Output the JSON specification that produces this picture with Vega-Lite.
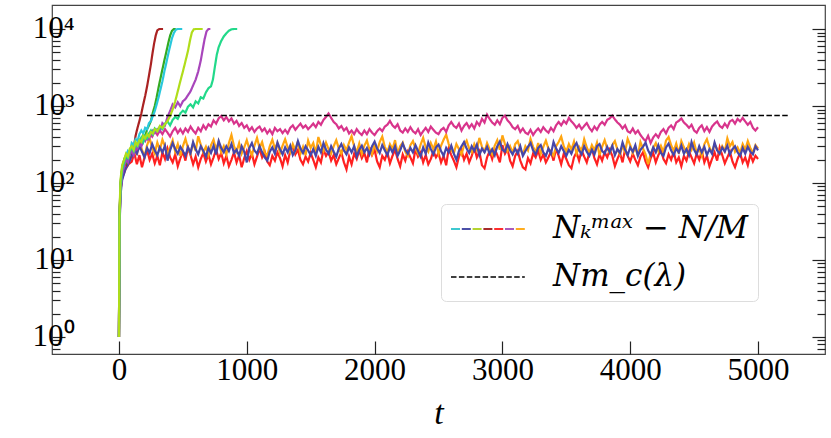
{
  "$schema": "https://vega.github.io/schema/vega-lite/v6.json",
  "width": 773,
  "height": 349,
  "autosize": {"type": "none"},
  "padding": {"left": 52, "top": 5, "right": 6, "bottom": 84},
  "config": {"view": {"stroke": "#444", "strokeWidth": 1.2}, "font": "Liberation Serif"},
  "datasets": {
    "mc": [{"t0": -250, "t1": 5243, "v": 750}],
    "runs": [
      {"s":"a","t":0,"v":1},{"s":"a","t":4,"v":30},{"s":"a","t":12,"v":80},{"s":"a","t":25,"v":115},{"s":"a","t":50,"v":150},{"s":"a","t":75,"v":175},
      {"s":"a","t":100,"v":190},{"s":"a","t":120,"v":245},{"s":"a","t":140,"v":175},{"s":"a","t":160,"v":230},{"s":"a","t":180,"v":160},{"s":"a","t":200,"v":215},{"s":"a","t":220,"v":265},{"s":"a","t":240,"v":200},{"s":"a","t":260,"v":240},{"s":"a","t":280,"v":180},
      {"s":"a","t":300,"v":225},{"s":"a","t":320,"v":170},{"s":"a","t":340,"v":250},{"s":"a","t":360,"v":205},{"s":"a","t":380,"v":280},{"s":"a","t":400,"v":215},{"s":"a","t":420,"v":185},{"s":"a","t":440,"v":235},{"s":"a","t":460,"v":165},{"s":"a","t":480,"v":210},
      {"s":"a","t":500,"v":255},{"s":"a","t":520,"v":195},{"s":"a","t":540,"v":290},{"s":"a","t":560,"v":230},{"s":"a","t":580,"v":175},{"s":"a","t":600,"v":220},{"s":"a","t":620,"v":160},{"s":"a","t":640,"v":205},{"s":"a","t":660,"v":245},{"s":"a","t":680,"v":190},
      {"s":"a","t":700,"v":235},{"s":"a","t":720,"v":175},{"s":"a","t":740,"v":215},{"s":"a","t":760,"v":270},{"s":"a","t":780,"v":205},{"s":"a","t":800,"v":245},{"s":"a","t":820,"v":180},{"s":"a","t":840,"v":225},{"s":"a","t":860,"v":165},{"s":"a","t":880,"v":200},
      {"s":"a","t":900,"v":250},{"s":"a","t":920,"v":185},{"s":"a","t":940,"v":230},{"s":"a","t":960,"v":160},{"s":"a","t":980,"v":210},{"s":"a","t":1000,"v":260},{"s":"a","t":1020,"v":200},{"s":"a","t":1040,"v":240},{"s":"a","t":1060,"v":175},{"s":"a","t":1080,"v":220},
      {"s":"a","t":1100,"v":280},{"s":"a","t":1120,"v":215},{"s":"a","t":1140,"v":255},{"s":"a","t":1160,"v":190},{"s":"a","t":1180,"v":170},{"s":"a","t":1200,"v":225},{"s":"a","t":1220,"v":195},{"s":"a","t":1240,"v":250},{"s":"a","t":1260,"v":210},{"s":"a","t":1280,"v":165},
      {"s":"a","t":1300,"v":230},{"s":"a","t":1320,"v":185},{"s":"a","t":1340,"v":260},{"s":"a","t":1360,"v":300},{"s":"a","t":1380,"v":235},{"s":"a","t":1400,"v":270},{"s":"a","t":1420,"v":200},{"s":"a","t":1440,"v":175},{"s":"a","t":1460,"v":220},{"s":"a","t":1480,"v":190},
      {"s":"a","t":1500,"v":245},{"s":"a","t":1520,"v":200},{"s":"a","t":1540,"v":160},{"s":"a","t":1560,"v":215},{"s":"a","t":1580,"v":185},{"s":"a","t":1600,"v":270},{"s":"a","t":1620,"v":225},{"s":"a","t":1640,"v":255},{"s":"a","t":1660,"v":195},{"s":"a","t":1680,"v":230},
      {"s":"a","t":1700,"v":175},{"s":"a","t":1720,"v":210},{"s":"a","t":1740,"v":250},{"s":"a","t":1760,"v":185},{"s":"a","t":1780,"v":150},{"s":"a","t":1800,"v":220},{"s":"a","t":1820,"v":175},{"s":"a","t":1840,"v":240},{"s":"a","t":1860,"v":205},{"s":"a","t":1880,"v":265},
      {"s":"a","t":1900,"v":210},{"s":"a","t":1920,"v":245},{"s":"a","t":1940,"v":185},{"s":"a","t":1960,"v":290},{"s":"a","t":1980,"v":230},{"s":"a","t":2000,"v":270},{"s":"a","t":2020,"v":190},{"s":"a","t":2040,"v":160},{"s":"a","t":2060,"v":225},{"s":"a","t":2080,"v":200},
      {"s":"a","t":2100,"v":250},{"s":"a","t":2120,"v":180},{"s":"a","t":2140,"v":225},{"s":"a","t":2160,"v":270},{"s":"a","t":2180,"v":205},{"s":"a","t":2200,"v":165},{"s":"a","t":2220,"v":235},{"s":"a","t":2240,"v":195},{"s":"a","t":2260,"v":255},{"s":"a","t":2280,"v":215},
      {"s":"a","t":2300,"v":180},{"s":"a","t":2320,"v":275},{"s":"a","t":2340,"v":220},{"s":"a","t":2360,"v":250},{"s":"a","t":2380,"v":185},{"s":"a","t":2400,"v":230},{"s":"a","t":2420,"v":175},{"s":"a","t":2440,"v":205},{"s":"a","t":2460,"v":260},{"s":"a","t":2480,"v":215},
      {"s":"a","t":2500,"v":245},{"s":"a","t":2520,"v":185},{"s":"a","t":2540,"v":225},{"s":"a","t":2560,"v":170},{"s":"a","t":2580,"v":280},{"s":"a","t":2600,"v":230},{"s":"a","t":2620,"v":195},{"s":"a","t":2640,"v":160},{"s":"a","t":2660,"v":220},{"s":"a","t":2680,"v":265},
      {"s":"a","t":2700,"v":200},{"s":"a","t":2720,"v":240},{"s":"a","t":2740,"v":185},{"s":"a","t":2760,"v":225},{"s":"a","t":2780,"v":290},{"s":"a","t":2800,"v":215},{"s":"a","t":2820,"v":255},{"s":"a","t":2840,"v":170},{"s":"a","t":2860,"v":155},{"s":"a","t":2880,"v":215},
      {"s":"a","t":2900,"v":260},{"s":"a","t":2920,"v":205},{"s":"a","t":2940,"v":275},{"s":"a","t":2960,"v":230},{"s":"a","t":2980,"v":185},{"s":"a","t":3000,"v":310},{"s":"a","t":3020,"v":240},{"s":"a","t":3040,"v":275},{"s":"a","t":3060,"v":195},{"s":"a","t":3080,"v":165},
      {"s":"a","t":3100,"v":225},{"s":"a","t":3120,"v":260},{"s":"a","t":3140,"v":195},{"s":"a","t":3160,"v":160},{"s":"a","t":3180,"v":150},{"s":"a","t":3200,"v":210},{"s":"a","t":3220,"v":180},{"s":"a","t":3240,"v":240},{"s":"a","t":3260,"v":215},{"s":"a","t":3280,"v":265},
      {"s":"a","t":3300,"v":200},{"s":"a","t":3320,"v":235},{"s":"a","t":3340,"v":185},{"s":"a","t":3360,"v":215},{"s":"a","t":3380,"v":255},{"s":"a","t":3400,"v":195},{"s":"a","t":3420,"v":280},{"s":"a","t":3440,"v":225},{"s":"a","t":3460,"v":175},{"s":"a","t":3480,"v":240},
      {"s":"a","t":3500,"v":205},{"s":"a","t":3520,"v":170},{"s":"a","t":3540,"v":155},{"s":"a","t":3560,"v":215},{"s":"a","t":3580,"v":250},{"s":"a","t":3600,"v":195},{"s":"a","t":3620,"v":265},{"s":"a","t":3640,"v":220},{"s":"a","t":3660,"v":185},{"s":"a","t":3680,"v":245},
      {"s":"a","t":3700,"v":280},{"s":"a","t":3720,"v":210},{"s":"a","t":3740,"v":175},{"s":"a","t":3760,"v":235},{"s":"a","t":3780,"v":195},{"s":"a","t":3800,"v":250},{"s":"a","t":3820,"v":215},{"s":"a","t":3840,"v":270},{"s":"a","t":3860,"v":225},{"s":"a","t":3880,"v":165},
      {"s":"a","t":3900,"v":205},{"s":"a","t":3920,"v":245},{"s":"a","t":3940,"v":185},{"s":"a","t":3960,"v":275},{"s":"a","t":3980,"v":225},{"s":"a","t":4000,"v":190},{"s":"a","t":4020,"v":240},{"s":"a","t":4040,"v":200},{"s":"a","t":4060,"v":170},{"s":"a","t":4080,"v":220},
      {"s":"a","t":4100,"v":250},{"s":"a","t":4120,"v":190},{"s":"a","t":4140,"v":160},{"s":"a","t":4160,"v":210},{"s":"a","t":4180,"v":245},{"s":"a","t":4200,"v":185},{"s":"a","t":4220,"v":230},{"s":"a","t":4240,"v":270},{"s":"a","t":4260,"v":205},{"s":"a","t":4280,"v":180},
      {"s":"a","t":4300,"v":235},{"s":"a","t":4320,"v":200},{"s":"a","t":4340,"v":255},{"s":"a","t":4360,"v":185},{"s":"a","t":4380,"v":215},{"s":"a","t":4400,"v":165},{"s":"a","t":4420,"v":225},{"s":"a","t":4440,"v":195},{"s":"a","t":4460,"v":255},{"s":"a","t":4480,"v":215},
      {"s":"a","t":4500,"v":180},{"s":"a","t":4520,"v":240},{"s":"a","t":4540,"v":200},{"s":"a","t":4560,"v":260},{"s":"a","t":4580,"v":185},{"s":"a","t":4600,"v":225},{"s":"a","t":4620,"v":165},{"s":"a","t":4640,"v":205},{"s":"a","t":4660,"v":250},{"s":"a","t":4680,"v":195},
      {"s":"a","t":4700,"v":290},{"s":"a","t":4720,"v":230},{"s":"a","t":4740,"v":180},{"s":"a","t":4760,"v":215},{"s":"a","t":4780,"v":255},{"s":"a","t":4800,"v":190},{"s":"a","t":4820,"v":160},{"s":"a","t":4840,"v":205},{"s":"a","t":4860,"v":245},{"s":"a","t":4880,"v":185},
      {"s":"a","t":4900,"v":215},{"s":"a","t":4920,"v":170},{"s":"a","t":4940,"v":235},{"s":"a","t":4960,"v":190},{"s":"a","t":4980,"v":225},{"s":"a","t":5000,"v":205},

      {"s":"b","t":0,"v":1},{"s":"b","t":4,"v":35},{"s":"b","t":12,"v":85},{"s":"b","t":25,"v":125},{"s":"b","t":50,"v":165},{"s":"b","t":75,"v":190},
      {"s":"b","t":100,"v":250},{"s":"b","t":120,"v":320},{"s":"b","t":140,"v":230},{"s":"b","t":160,"v":345},{"s":"b","t":180,"v":270},{"s":"b","t":200,"v":220},{"s":"b","t":220,"v":310},{"s":"b","t":240,"v":380},{"s":"b","t":260,"v":285},{"s":"b","t":280,"v":240},
      {"s":"b","t":300,"v":335},{"s":"b","t":320,"v":270},{"s":"b","t":340,"v":365},{"s":"b","t":360,"v":300},{"s":"b","t":380,"v":235},{"s":"b","t":400,"v":290},{"s":"b","t":420,"v":360},{"s":"b","t":440,"v":255},{"s":"b","t":460,"v":320},{"s":"b","t":480,"v":225},
      {"s":"b","t":500,"v":300},{"s":"b","t":520,"v":375},{"s":"b","t":540,"v":280},{"s":"b","t":560,"v":240},{"s":"b","t":580,"v":330},{"s":"b","t":600,"v":260},{"s":"b","t":620,"v":405},{"s":"b","t":640,"v":315},{"s":"b","t":660,"v":250},{"s":"b","t":680,"v":295},
      {"s":"b","t":700,"v":230},{"s":"b","t":720,"v":310},{"s":"b","t":740,"v":365},{"s":"b","t":760,"v":270},{"s":"b","t":780,"v":345},{"s":"b","t":800,"v":250},{"s":"b","t":820,"v":300},{"s":"b","t":840,"v":235},{"s":"b","t":860,"v":330},{"s":"b","t":880,"v":420},
      {"s":"b","t":900,"v":300},{"s":"b","t":920,"v":255},{"s":"b","t":940,"v":330},{"s":"b","t":960,"v":240},{"s":"b","t":980,"v":290},{"s":"b","t":1000,"v":360},{"s":"b","t":1020,"v":275},{"s":"b","t":1040,"v":230},{"s":"b","t":1060,"v":305},{"s":"b","t":1080,"v":385},
      {"s":"b","t":1100,"v":285},{"s":"b","t":1120,"v":340},{"s":"b","t":1140,"v":250},{"s":"b","t":1160,"v":225},{"s":"b","t":1180,"v":300},{"s":"b","t":1200,"v":365},{"s":"b","t":1220,"v":280},{"s":"b","t":1240,"v":330},{"s":"b","t":1260,"v":245},{"s":"b","t":1280,"v":305},
      {"s":"b","t":1300,"v":370},{"s":"b","t":1320,"v":290},{"s":"b","t":1340,"v":250},{"s":"b","t":1360,"v":320},{"s":"b","t":1380,"v":265},{"s":"b","t":1400,"v":345},{"s":"b","t":1420,"v":240},{"s":"b","t":1440,"v":295},{"s":"b","t":1460,"v":230},{"s":"b","t":1480,"v":355},
      {"s":"b","t":1500,"v":285},{"s":"b","t":1520,"v":330},{"s":"b","t":1540,"v":245},{"s":"b","t":1560,"v":395},{"s":"b","t":1580,"v":310},{"s":"b","t":1600,"v":260},{"s":"b","t":1620,"v":335},{"s":"b","t":1640,"v":275},{"s":"b","t":1660,"v":240},{"s":"b","t":1680,"v":300},
      {"s":"b","t":1700,"v":360},{"s":"b","t":1720,"v":280},{"s":"b","t":1740,"v":240},{"s":"b","t":1760,"v":310},{"s":"b","t":1780,"v":265},{"s":"b","t":1800,"v":335},{"s":"b","t":1820,"v":405},{"s":"b","t":1840,"v":300},{"s":"b","t":1860,"v":250},{"s":"b","t":1880,"v":325},
      {"s":"b","t":1900,"v":240},{"s":"b","t":1920,"v":305},{"s":"b","t":1940,"v":355},{"s":"b","t":1960,"v":270},{"s":"b","t":1980,"v":235},{"s":"b","t":2000,"v":315},{"s":"b","t":2020,"v":260},{"s":"b","t":2040,"v":340},{"s":"b","t":2060,"v":400},{"s":"b","t":2080,"v":295},
      {"s":"b","t":2100,"v":250},{"s":"b","t":2120,"v":320},{"s":"b","t":2140,"v":275},{"s":"b","t":2160,"v":360},{"s":"b","t":2180,"v":240},{"s":"b","t":2200,"v":300},{"s":"b","t":2220,"v":335},{"s":"b","t":2240,"v":255},{"s":"b","t":2260,"v":225},{"s":"b","t":2280,"v":310},
      {"s":"b","t":2300,"v":350},{"s":"b","t":2320,"v":280},{"s":"b","t":2340,"v":240},{"s":"b","t":2360,"v":315},{"s":"b","t":2380,"v":385},{"s":"b","t":2400,"v":290},{"s":"b","t":2420,"v":255},{"s":"b","t":2440,"v":330},{"s":"b","t":2460,"v":275},{"s":"b","t":2480,"v":345},
      {"s":"b","t":2500,"v":240},{"s":"b","t":2520,"v":305},{"s":"b","t":2540,"v":365},{"s":"b","t":2560,"v":425},{"s":"b","t":2580,"v":320},{"s":"b","t":2600,"v":265},{"s":"b","t":2620,"v":245},{"s":"b","t":2640,"v":320},{"s":"b","t":2660,"v":275},{"s":"b","t":2680,"v":235},
      {"s":"b","t":2700,"v":310},{"s":"b","t":2720,"v":355},{"s":"b","t":2740,"v":280},{"s":"b","t":2760,"v":250},{"s":"b","t":2780,"v":320},{"s":"b","t":2800,"v":270},{"s":"b","t":2820,"v":385},{"s":"b","t":2840,"v":295},{"s":"b","t":2860,"v":255},{"s":"b","t":2880,"v":330},
      {"s":"b","t":2900,"v":275},{"s":"b","t":2920,"v":235},{"s":"b","t":2940,"v":305},{"s":"b","t":2960,"v":360},{"s":"b","t":2980,"v":270},{"s":"b","t":3000,"v":415},{"s":"b","t":3020,"v":320},{"s":"b","t":3040,"v":260},{"s":"b","t":3060,"v":300},{"s":"b","t":3080,"v":245},
      {"s":"b","t":3100,"v":320},{"s":"b","t":3120,"v":350},{"s":"b","t":3140,"v":275},{"s":"b","t":3160,"v":235},{"s":"b","t":3180,"v":300},{"s":"b","t":3200,"v":265},{"s":"b","t":3220,"v":375},{"s":"b","t":3240,"v":295},{"s":"b","t":3260,"v":250},{"s":"b","t":3280,"v":330},
      {"s":"b","t":3300,"v":240},{"s":"b","t":3320,"v":295},{"s":"b","t":3340,"v":355},{"s":"b","t":3360,"v":280},{"s":"b","t":3380,"v":250},{"s":"b","t":3400,"v":225},{"s":"b","t":3420,"v":300},{"s":"b","t":3440,"v":340},{"s":"b","t":3460,"v":400},{"s":"b","t":3480,"v":300},
      {"s":"b","t":3500,"v":255},{"s":"b","t":3520,"v":320},{"s":"b","t":3540,"v":270},{"s":"b","t":3560,"v":345},{"s":"b","t":3580,"v":240},{"s":"b","t":3600,"v":295},{"s":"b","t":3620,"v":260},{"s":"b","t":3640,"v":370},{"s":"b","t":3660,"v":290},{"s":"b","t":3680,"v":245},
      {"s":"b","t":3700,"v":310},{"s":"b","t":3720,"v":265},{"s":"b","t":3740,"v":335},{"s":"b","t":3760,"v":230},{"s":"b","t":3780,"v":295},{"s":"b","t":3800,"v":360},{"s":"b","t":3820,"v":280},{"s":"b","t":3840,"v":245},{"s":"b","t":3860,"v":310},{"s":"b","t":3880,"v":350},
      {"s":"b","t":3900,"v":270},{"s":"b","t":3920,"v":235},{"s":"b","t":3940,"v":300},{"s":"b","t":3960,"v":255},{"s":"b","t":3980,"v":375},{"s":"b","t":4000,"v":310},{"s":"b","t":4020,"v":245},{"s":"b","t":4040,"v":290},{"s":"b","t":4060,"v":225},{"s":"b","t":4080,"v":340},
      {"s":"b","t":4100,"v":280},{"s":"b","t":4120,"v":235},{"s":"b","t":4140,"v":175},{"s":"b","t":4160,"v":240},{"s":"b","t":4180,"v":285},{"s":"b","t":4200,"v":330},{"s":"b","t":4220,"v":260},{"s":"b","t":4240,"v":305},{"s":"b","t":4260,"v":250},{"s":"b","t":4280,"v":355},
      {"s":"b","t":4300,"v":395},{"s":"b","t":4320,"v":310},{"s":"b","t":4340,"v":260},{"s":"b","t":4360,"v":325},{"s":"b","t":4380,"v":240},{"s":"b","t":4400,"v":350},{"s":"b","t":4420,"v":290},{"s":"b","t":4440,"v":255},{"s":"b","t":4460,"v":320},{"s":"b","t":4480,"v":270},
      {"s":"b","t":4500,"v":335},{"s":"b","t":4520,"v":245},{"s":"b","t":4540,"v":280},{"s":"b","t":4560,"v":225},{"s":"b","t":4580,"v":320},{"s":"b","t":4600,"v":370},{"s":"b","t":4620,"v":290},{"s":"b","t":4640,"v":250},{"s":"b","t":4660,"v":320},{"s":"b","t":4680,"v":275},
      {"s":"b","t":4700,"v":240},{"s":"b","t":4720,"v":300},{"s":"b","t":4740,"v":260},{"s":"b","t":4760,"v":380},{"s":"b","t":4780,"v":300},{"s":"b","t":4800,"v":340},{"s":"b","t":4820,"v":255},{"s":"b","t":4840,"v":290},{"s":"b","t":4860,"v":245},{"s":"b","t":4880,"v":320},
      {"s":"b","t":4900,"v":270},{"s":"b","t":4920,"v":350},{"s":"b","t":4940,"v":285},{"s":"b","t":4960,"v":245},{"s":"b","t":4980,"v":310},{"s":"b","t":5000,"v":280},

      {"s":"c","t":0,"v":1},{"s":"c","t":4,"v":30},{"s":"c","t":12,"v":90},{"s":"c","t":25,"v":130},{"s":"c","t":50,"v":175},{"s":"c","t":75,"v":210},
      {"s":"c","t":100,"v":245},{"s":"c","t":120,"v":300},{"s":"c","t":140,"v":270},{"s":"c","t":160,"v":350},{"s":"c","t":180,"v":320},{"s":"c","t":200,"v":400},{"s":"c","t":220,"v":370},{"s":"c","t":240,"v":440},{"s":"c","t":260,"v":400},{"s":"c","t":280,"v":470},
      {"s":"c","t":300,"v":420},{"s":"c","t":320,"v":480},{"s":"c","t":340,"v":430},{"s":"c","t":360,"v":500},{"s":"c","t":380,"v":450},{"s":"c","t":400,"v":400},{"s":"c","t":420,"v":470},{"s":"c","t":440,"v":520},{"s":"c","t":460,"v":445},{"s":"c","t":480,"v":500},
      {"s":"c","t":500,"v":440},{"s":"c","t":520,"v":510},{"s":"c","t":540,"v":460},{"s":"c","t":560,"v":540},{"s":"c","t":580,"v":480},{"s":"c","t":600,"v":440},{"s":"c","t":620,"v":520},{"s":"c","t":640,"v":470},{"s":"c","t":660,"v":560},{"s":"c","t":680,"v":500},
      {"s":"c","t":700,"v":580},{"s":"c","t":720,"v":540},{"s":"c","t":740,"v":650},{"s":"c","t":760,"v":590},{"s":"c","t":780,"v":690},{"s":"c","t":800,"v":740},{"s":"c","t":820,"v":650},{"s":"c","t":840,"v":720},{"s":"c","t":860,"v":630},{"s":"c","t":880,"v":690},
      {"s":"c","t":900,"v":590},{"s":"c","t":920,"v":640},{"s":"c","t":940,"v":550},{"s":"c","t":960,"v":600},{"s":"c","t":980,"v":520},{"s":"c","t":1000,"v":560},{"s":"c","t":1020,"v":480},{"s":"c","t":1040,"v":530},{"s":"c","t":1060,"v":460},{"s":"c","t":1080,"v":510},
      {"s":"c","t":1100,"v":540},{"s":"c","t":1120,"v":470},{"s":"c","t":1140,"v":510},{"s":"c","t":1160,"v":440},{"s":"c","t":1180,"v":490},{"s":"c","t":1200,"v":430},{"s":"c","t":1220,"v":520},{"s":"c","t":1240,"v":470},{"s":"c","t":1260,"v":500},{"s":"c","t":1280,"v":445},
      {"s":"c","t":1300,"v":490},{"s":"c","t":1320,"v":440},{"s":"c","t":1340,"v":520},{"s":"c","t":1360,"v":560},{"s":"c","t":1380,"v":490},{"s":"c","t":1400,"v":540},{"s":"c","t":1420,"v":590},{"s":"c","t":1440,"v":520},{"s":"c","t":1460,"v":560},{"s":"c","t":1480,"v":500},
      {"s":"c","t":1500,"v":540},{"s":"c","t":1520,"v":590},{"s":"c","t":1540,"v":530},{"s":"c","t":1560,"v":620},{"s":"c","t":1580,"v":570},{"s":"c","t":1600,"v":660},{"s":"c","t":1620,"v":720},{"s":"c","t":1640,"v":800},{"s":"c","t":1660,"v":700},{"s":"c","t":1680,"v":620},
      {"s":"c","t":1700,"v":580},{"s":"c","t":1720,"v":510},{"s":"c","t":1740,"v":550},{"s":"c","t":1760,"v":480},{"s":"c","t":1780,"v":520},{"s":"c","t":1800,"v":440},{"s":"c","t":1820,"v":480},{"s":"c","t":1840,"v":430},{"s":"c","t":1860,"v":500},{"s":"c","t":1880,"v":450},
      {"s":"c","t":1900,"v":420},{"s":"c","t":1920,"v":480},{"s":"c","t":1940,"v":430},{"s":"c","t":1960,"v":500},{"s":"c","t":1980,"v":450},{"s":"c","t":2000,"v":420},{"s":"c","t":2020,"v":470},{"s":"c","t":2040,"v":510},{"s":"c","t":2060,"v":470},{"s":"c","t":2080,"v":540},
      {"s":"c","t":2100,"v":570},{"s":"c","t":2120,"v":640},{"s":"c","t":2140,"v":560},{"s":"c","t":2160,"v":520},{"s":"c","t":2180,"v":580},{"s":"c","t":2200,"v":480},{"s":"c","t":2220,"v":450},{"s":"c","t":2240,"v":510},{"s":"c","t":2260,"v":460},{"s":"c","t":2280,"v":530},
      {"s":"c","t":2300,"v":470},{"s":"c","t":2320,"v":440},{"s":"c","t":2340,"v":500},{"s":"c","t":2360,"v":420},{"s":"c","t":2380,"v":470},{"s":"c","t":2400,"v":520},{"s":"c","t":2420,"v":460},{"s":"c","t":2440,"v":540},{"s":"c","t":2460,"v":490},{"s":"c","t":2480,"v":450},
      {"s":"c","t":2500,"v":430},{"s":"c","t":2520,"v":490},{"s":"c","t":2540,"v":520},{"s":"c","t":2560,"v":460},{"s":"c","t":2580,"v":560},{"s":"c","t":2600,"v":620},{"s":"c","t":2620,"v":550},{"s":"c","t":2640,"v":520},{"s":"c","t":2660,"v":590},{"s":"c","t":2680,"v":480},
      {"s":"c","t":2700,"v":550},{"s":"c","t":2720,"v":600},{"s":"c","t":2740,"v":520},{"s":"c","t":2760,"v":580},{"s":"c","t":2780,"v":510},{"s":"c","t":2800,"v":620},{"s":"c","t":2820,"v":560},{"s":"c","t":2840,"v":680},{"s":"c","t":2860,"v":610},{"s":"c","t":2880,"v":770},
      {"s":"c","t":2900,"v":680},{"s":"c","t":2920,"v":610},{"s":"c","t":2940,"v":570},{"s":"c","t":2960,"v":650},{"s":"c","t":2980,"v":580},{"s":"c","t":3000,"v":700},{"s":"c","t":3020,"v":750},{"s":"c","t":3040,"v":650},{"s":"c","t":3060,"v":600},{"s":"c","t":3080,"v":530},
      {"s":"c","t":3100,"v":500},{"s":"c","t":3120,"v":550},{"s":"c","t":3140,"v":460},{"s":"c","t":3160,"v":510},{"s":"c","t":3180,"v":450},{"s":"c","t":3200,"v":430},{"s":"c","t":3220,"v":490},{"s":"c","t":3240,"v":420},{"s":"c","t":3260,"v":470},{"s":"c","t":3280,"v":510},
      {"s":"c","t":3300,"v":460},{"s":"c","t":3320,"v":530},{"s":"c","t":3340,"v":480},{"s":"c","t":3360,"v":450},{"s":"c","t":3380,"v":520},{"s":"c","t":3400,"v":470},{"s":"c","t":3420,"v":560},{"s":"c","t":3440,"v":620},{"s":"c","t":3460,"v":560},{"s":"c","t":3480,"v":640},
      {"s":"c","t":3500,"v":590},{"s":"c","t":3520,"v":700},{"s":"c","t":3540,"v":630},{"s":"c","t":3560,"v":580},{"s":"c","t":3580,"v":520},{"s":"c","t":3600,"v":570},{"s":"c","t":3620,"v":500},{"s":"c","t":3640,"v":550},{"s":"c","t":3660,"v":600},{"s":"c","t":3680,"v":520},
      {"s":"c","t":3700,"v":470},{"s":"c","t":3720,"v":540},{"s":"c","t":3740,"v":490},{"s":"c","t":3760,"v":570},{"s":"c","t":3780,"v":620},{"s":"c","t":3800,"v":570},{"s":"c","t":3820,"v":660},{"s":"c","t":3840,"v":690},{"s":"c","t":3860,"v":750},{"s":"c","t":3880,"v":670},
      {"s":"c","t":3900,"v":610},{"s":"c","t":3920,"v":570},{"s":"c","t":3940,"v":510},{"s":"c","t":3960,"v":560},{"s":"c","t":3980,"v":470},{"s":"c","t":4000,"v":450},{"s":"c","t":4020,"v":510},{"s":"c","t":4040,"v":440},{"s":"c","t":4060,"v":480},{"s":"c","t":4080,"v":420},
      {"s":"c","t":4100,"v":380},{"s":"c","t":4120,"v":350},{"s":"c","t":4140,"v":410},{"s":"c","t":4160,"v":330},{"s":"c","t":4180,"v":390},{"s":"c","t":4200,"v":430},{"s":"c","t":4220,"v":390},{"s":"c","t":4240,"v":460},{"s":"c","t":4260,"v":500},{"s":"c","t":4280,"v":440},
      {"s":"c","t":4300,"v":520},{"s":"c","t":4320,"v":560},{"s":"c","t":4340,"v":500},{"s":"c","t":4360,"v":610},{"s":"c","t":4380,"v":640},{"s":"c","t":4400,"v":690},{"s":"c","t":4420,"v":610},{"s":"c","t":4440,"v":570},{"s":"c","t":4460,"v":520},{"s":"c","t":4480,"v":570},
      {"s":"c","t":4500,"v":480},{"s":"c","t":4520,"v":450},{"s":"c","t":4540,"v":520},{"s":"c","t":4560,"v":560},{"s":"c","t":4580,"v":470},{"s":"c","t":4600,"v":530},{"s":"c","t":4620,"v":460},{"s":"c","t":4640,"v":540},{"s":"c","t":4660,"v":590},{"s":"c","t":4680,"v":630},
      {"s":"c","t":4700,"v":550},{"s":"c","t":4720,"v":520},{"s":"c","t":4740,"v":590},{"s":"c","t":4760,"v":530},{"s":"c","t":4780,"v":630},{"s":"c","t":4800,"v":660},{"s":"c","t":4820,"v":590},{"s":"c","t":4840,"v":680},{"s":"c","t":4860,"v":630},{"s":"c","t":4880,"v":700},
      {"s":"c","t":4900,"v":630},{"s":"c","t":4920,"v":570},{"s":"c","t":4940,"v":620},{"s":"c","t":4960,"v":520},{"s":"c","t":4980,"v":480},{"s":"c","t":5000,"v":530},

      {"s":"d","t":0,"v":1},{"s":"d","t":4,"v":25},{"s":"d","t":12,"v":70},{"s":"d","t":25,"v":110},{"s":"d","t":50,"v":150},{"s":"d","t":75,"v":180},
      {"s":"d","t":100,"v":225},{"s":"d","t":120,"v":270},{"s":"d","t":140,"v":240},{"s":"d","t":160,"v":300},{"s":"d","t":180,"v":255},{"s":"d","t":200,"v":215},{"s":"d","t":220,"v":285},{"s":"d","t":240,"v":245},{"s":"d","t":260,"v":320},{"s":"d","t":280,"v":265},
      {"s":"d","t":300,"v":230},{"s":"d","t":320,"v":290},{"s":"d","t":340,"v":250},{"s":"d","t":360,"v":305},{"s":"d","t":380,"v":195},{"s":"d","t":400,"v":265},{"s":"d","t":420,"v":330},{"s":"d","t":440,"v":275},{"s":"d","t":460,"v":240},{"s":"d","t":480,"v":295},
      {"s":"d","t":500,"v":260},{"s":"d","t":520,"v":225},{"s":"d","t":540,"v":290},{"s":"d","t":560,"v":245},{"s":"d","t":580,"v":340},{"s":"d","t":600,"v":275},{"s":"d","t":620,"v":235},{"s":"d","t":640,"v":300},{"s":"d","t":660,"v":260},{"s":"d","t":680,"v":220},
      {"s":"d","t":700,"v":285},{"s":"d","t":720,"v":245},{"s":"d","t":740,"v":305},{"s":"d","t":760,"v":235},{"s":"d","t":780,"v":350},{"s":"d","t":800,"v":285},{"s":"d","t":820,"v":250},{"s":"d","t":840,"v":300},{"s":"d","t":860,"v":260},{"s":"d","t":880,"v":320},
      {"s":"d","t":900,"v":245},{"s":"d","t":920,"v":270},{"s":"d","t":940,"v":225},{"s":"d","t":960,"v":300},{"s":"d","t":980,"v":255},{"s":"d","t":1000,"v":185},{"s":"d","t":1020,"v":285},{"s":"d","t":1040,"v":330},{"s":"d","t":1060,"v":265},{"s":"d","t":1080,"v":240},
      {"s":"d","t":1100,"v":300},{"s":"d","t":1120,"v":250},{"s":"d","t":1140,"v":215},{"s":"d","t":1160,"v":195},{"s":"d","t":1180,"v":255},{"s":"d","t":1200,"v":290},{"s":"d","t":1220,"v":240},{"s":"d","t":1240,"v":335},{"s":"d","t":1260,"v":275},{"s":"d","t":1280,"v":235},
      {"s":"d","t":1300,"v":290},{"s":"d","t":1320,"v":250},{"s":"d","t":1340,"v":305},{"s":"d","t":1360,"v":230},{"s":"d","t":1380,"v":265},{"s":"d","t":1400,"v":350},{"s":"d","t":1420,"v":280},{"s":"d","t":1440,"v":245},{"s":"d","t":1460,"v":300},{"s":"d","t":1480,"v":265},
      {"s":"d","t":1500,"v":230},{"s":"d","t":1520,"v":275},{"s":"d","t":1540,"v":225},{"s":"d","t":1560,"v":295},{"s":"d","t":1580,"v":250},{"s":"d","t":1600,"v":330},{"s":"d","t":1620,"v":270},{"s":"d","t":1640,"v":240},{"s":"d","t":1660,"v":300},{"s":"d","t":1680,"v":255},
      {"s":"d","t":1700,"v":220},{"s":"d","t":1720,"v":280},{"s":"d","t":1740,"v":320},{"s":"d","t":1760,"v":265},{"s":"d","t":1780,"v":235},{"s":"d","t":1800,"v":290},{"s":"d","t":1820,"v":250},{"s":"d","t":1840,"v":300},{"s":"d","t":1860,"v":220},{"s":"d","t":1880,"v":270},
      {"s":"d","t":1900,"v":305},{"s":"d","t":1920,"v":250},{"s":"d","t":1940,"v":285},{"s":"d","t":1960,"v":235},{"s":"d","t":1980,"v":300},{"s":"d","t":2000,"v":345},{"s":"d","t":2020,"v":280},{"s":"d","t":2040,"v":245},{"s":"d","t":2060,"v":310},{"s":"d","t":2080,"v":265},
      {"s":"d","t":2100,"v":230},{"s":"d","t":2120,"v":290},{"s":"d","t":2140,"v":250},{"s":"d","t":2160,"v":300},{"s":"d","t":2180,"v":225},{"s":"d","t":2200,"v":265},{"s":"d","t":2220,"v":325},{"s":"d","t":2240,"v":270},{"s":"d","t":2260,"v":240},{"s":"d","t":2280,"v":285},
      {"s":"d","t":2300,"v":250},{"s":"d","t":2320,"v":310},{"s":"d","t":2340,"v":260},{"s":"d","t":2360,"v":220},{"s":"d","t":2380,"v":290},{"s":"d","t":2400,"v":240},{"s":"d","t":2420,"v":335},{"s":"d","t":2440,"v":275},{"s":"d","t":2460,"v":235},{"s":"d","t":2480,"v":290},
      {"s":"d","t":2500,"v":315},{"s":"d","t":2520,"v":260},{"s":"d","t":2540,"v":225},{"s":"d","t":2560,"v":285},{"s":"d","t":2580,"v":250},{"s":"d","t":2600,"v":305},{"s":"d","t":2620,"v":240},{"s":"d","t":2640,"v":200},{"s":"d","t":2660,"v":260},{"s":"d","t":2680,"v":300},
      {"s":"d","t":2700,"v":340},{"s":"d","t":2720,"v":280},{"s":"d","t":2740,"v":245},{"s":"d","t":2760,"v":300},{"s":"d","t":2780,"v":260},{"s":"d","t":2800,"v":315},{"s":"d","t":2820,"v":230},{"s":"d","t":2840,"v":280},{"s":"d","t":2860,"v":250},{"s":"d","t":2880,"v":295},
      {"s":"d","t":2900,"v":240},{"s":"d","t":2920,"v":275},{"s":"d","t":2940,"v":230},{"s":"d","t":2960,"v":300},{"s":"d","t":2980,"v":345},{"s":"d","t":3000,"v":270},{"s":"d","t":3020,"v":255},{"s":"d","t":3040,"v":320},{"s":"d","t":3060,"v":265},{"s":"d","t":3080,"v":235},
      {"s":"d","t":3100,"v":280},{"s":"d","t":3120,"v":240},{"s":"d","t":3140,"v":300},{"s":"d","t":3160,"v":225},{"s":"d","t":3180,"v":260},{"s":"d","t":3200,"v":295},{"s":"d","t":3220,"v":330},{"s":"d","t":3240,"v":265},{"s":"d","t":3260,"v":235},{"s":"d","t":3280,"v":285},
      {"s":"d","t":3300,"v":310},{"s":"d","t":3320,"v":250},{"s":"d","t":3340,"v":225},{"s":"d","t":3360,"v":280},{"s":"d","t":3380,"v":240},{"s":"d","t":3400,"v":340},{"s":"d","t":3420,"v":280},{"s":"d","t":3440,"v":245},{"s":"d","t":3460,"v":300},{"s":"d","t":3480,"v":260},
      {"s":"d","t":3500,"v":225},{"s":"d","t":3520,"v":270},{"s":"d","t":3540,"v":240},{"s":"d","t":3560,"v":295},{"s":"d","t":3580,"v":330},{"s":"d","t":3600,"v":265},{"s":"d","t":3620,"v":235},{"s":"d","t":3640,"v":300},{"s":"d","t":3660,"v":255},{"s":"d","t":3680,"v":225},
      {"s":"d","t":3700,"v":270},{"s":"d","t":3720,"v":235},{"s":"d","t":3740,"v":300},{"s":"d","t":3760,"v":320},{"s":"d","t":3780,"v":260},{"s":"d","t":3800,"v":240},{"s":"d","t":3820,"v":295},{"s":"d","t":3840,"v":250},{"s":"d","t":3860,"v":305},{"s":"d","t":3880,"v":230},
      {"s":"d","t":3900,"v":275},{"s":"d","t":3920,"v":245},{"s":"d","t":3940,"v":335},{"s":"d","t":3960,"v":270},{"s":"d","t":3980,"v":230},{"s":"d","t":4000,"v":290},{"s":"d","t":4020,"v":255},{"s":"d","t":4040,"v":310},{"s":"d","t":4060,"v":225},{"s":"d","t":4080,"v":270},
      {"s":"d","t":4100,"v":295},{"s":"d","t":4120,"v":335},{"s":"d","t":4140,"v":265},{"s":"d","t":4160,"v":230},{"s":"d","t":4180,"v":290},{"s":"d","t":4200,"v":250},{"s":"d","t":4220,"v":310},{"s":"d","t":4240,"v":245},{"s":"d","t":4260,"v":225},{"s":"d","t":4280,"v":290},
      {"s":"d","t":4300,"v":325},{"s":"d","t":4320,"v":265},{"s":"d","t":4340,"v":230},{"s":"d","t":4360,"v":280},{"s":"d","t":4380,"v":250},{"s":"d","t":4400,"v":305},{"s":"d","t":4420,"v":240},{"s":"d","t":4440,"v":275},{"s":"d","t":4460,"v":230},{"s":"d","t":4480,"v":340},
      {"s":"d","t":4500,"v":270},{"s":"d","t":4520,"v":235},{"s":"d","t":4540,"v":300},{"s":"d","t":4560,"v":250},{"s":"d","t":4580,"v":295},{"s":"d","t":4600,"v":230},{"s":"d","t":4620,"v":275},{"s":"d","t":4640,"v":240},{"s":"d","t":4660,"v":335},{"s":"d","t":4680,"v":265},
      {"s":"d","t":4700,"v":240},{"s":"d","t":4720,"v":290},{"s":"d","t":4740,"v":255},{"s":"d","t":4760,"v":305},{"s":"d","t":4780,"v":235},{"s":"d","t":4800,"v":275},{"s":"d","t":4820,"v":300},{"s":"d","t":4840,"v":250},{"s":"d","t":4860,"v":225},{"s":"d","t":4880,"v":285},
      {"s":"d","t":4900,"v":240},{"s":"d","t":4920,"v":295},{"s":"d","t":4940,"v":255},{"s":"d","t":4960,"v":235},{"s":"d","t":4980,"v":300},{"s":"d","t":5000,"v":265},

      {"s":"e","t":0,"v":1},{"s":"e","t":4,"v":35},{"s":"e","t":12,"v":95},{"s":"e","t":25,"v":150},{"s":"e","t":40,"v":190},{"s":"e","t":55,"v":175},{"s":"e","t":70,"v":240},{"s":"e","t":85,"v":225},{"s":"e","t":100,"v":300},{"s":"e","t":115,"v":280},
      {"s":"e","t":130,"v":410},{"s":"e","t":145,"v":520},{"s":"e","t":160,"v":640},{"s":"e","t":175,"v":800},{"s":"e","t":190,"v":1050},{"s":"e","t":205,"v":1350},{"s":"e","t":220,"v":1800},{"s":"e","t":235,"v":2500},{"s":"e","t":250,"v":3500},{"s":"e","t":262,"v":4800},
      {"s":"e","t":275,"v":6500},{"s":"e","t":288,"v":8300},{"s":"e","t":300,"v":9600},{"s":"e","t":315,"v":10000},{"s":"e","t":345,"v":10000},

      {"s":"f","t":0,"v":1},{"s":"f","t":4,"v":35},{"s":"f","t":12,"v":100},{"s":"f","t":25,"v":160},{"s":"f","t":40,"v":200},{"s":"f","t":55,"v":185},{"s":"f","t":70,"v":250},{"s":"f","t":85,"v":230},{"s":"f","t":100,"v":290},{"s":"f","t":115,"v":270},
      {"s":"f","t":130,"v":330},{"s":"f","t":145,"v":310},{"s":"f","t":160,"v":360},{"s":"f","t":175,"v":340},{"s":"f","t":190,"v":420},{"s":"f","t":205,"v":400},{"s":"f","t":220,"v":500},{"s":"f","t":235,"v":560},{"s":"f","t":250,"v":640},{"s":"f","t":265,"v":820},
      {"s":"f","t":280,"v":1000},{"s":"f","t":295,"v":1300},{"s":"f","t":310,"v":1750},{"s":"f","t":325,"v":2300},{"s":"f","t":340,"v":3000},{"s":"f","t":355,"v":3900},{"s":"f","t":370,"v":5000},{"s":"f","t":385,"v":6500},{"s":"f","t":400,"v":8200},{"s":"f","t":415,"v":9500},
      {"s":"f","t":430,"v":10000},{"s":"f","t":445,"v":10000},

      {"s":"g","t":0,"v":1},{"s":"g","t":4,"v":30},{"s":"g","t":12,"v":85},{"s":"g","t":25,"v":140},{"s":"g","t":40,"v":190},{"s":"g","t":55,"v":230},{"s":"g","t":70,"v":260},{"s":"g","t":85,"v":240},{"s":"g","t":100,"v":330},{"s":"g","t":115,"v":310},
      {"s":"g","t":130,"v":370},{"s":"g","t":145,"v":350},{"s":"g","t":160,"v":430},{"s":"g","t":175,"v":480},{"s":"g","t":190,"v":440},{"s":"g","t":205,"v":520},{"s":"g","t":220,"v":500},{"s":"g","t":235,"v":600},{"s":"g","t":250,"v":640},{"s":"g","t":265,"v":740},
      {"s":"g","t":280,"v":860},{"s":"g","t":295,"v":1050},{"s":"g","t":310,"v":1300},{"s":"g","t":325,"v":1650},{"s":"g","t":340,"v":2100},{"s":"g","t":355,"v":2800},{"s":"g","t":370,"v":3600},{"s":"g","t":385,"v":4700},{"s":"g","t":400,"v":6000},{"s":"g","t":415,"v":7600},
      {"s":"g","t":430,"v":8900},{"s":"g","t":445,"v":9800},{"s":"g","t":460,"v":10000},{"s":"g","t":495,"v":10000},

      {"s":"h","t":0,"v":1},{"s":"h","t":4,"v":25},{"s":"h","t":12,"v":80},{"s":"h","t":25,"v":130},{"s":"h","t":40,"v":165},{"s":"h","t":55,"v":200},{"s":"h","t":70,"v":185},{"s":"h","t":85,"v":240},{"s":"h","t":100,"v":260},{"s":"h","t":115,"v":230},
      {"s":"h","t":130,"v":300},{"s":"h","t":145,"v":280},{"s":"h","t":160,"v":320},{"s":"h","t":175,"v":300},{"s":"h","t":190,"v":380},{"s":"h","t":205,"v":350},{"s":"h","t":220,"v":400},{"s":"h","t":235,"v":370},{"s":"h","t":250,"v":440},{"s":"h","t":265,"v":480},
      {"s":"h","t":280,"v":450},{"s":"h","t":300,"v":500},{"s":"h","t":320,"v":470},{"s":"h","t":340,"v":600},{"s":"h","t":360,"v":560},{"s":"h","t":380,"v":720},{"s":"h","t":400,"v":860},{"s":"h","t":420,"v":1050},{"s":"h","t":440,"v":960},{"s":"h","t":460,"v":1120},
      {"s":"h","t":480,"v":990},{"s":"h","t":500,"v":1150},{"s":"h","t":520,"v":1230},{"s":"h","t":540,"v":1380},{"s":"h","t":560,"v":1550},{"s":"h","t":580,"v":1850},{"s":"h","t":600,"v":2200},{"s":"h","t":620,"v":2800},{"s":"h","t":640,"v":3900},{"s":"h","t":655,"v":5400},
      {"s":"h","t":670,"v":7400},{"s":"h","t":685,"v":9300},{"s":"h","t":700,"v":10000},{"s":"h","t":715,"v":10000},

      {"s":"i","t":0,"v":1},{"s":"i","t":4,"v":30},{"s":"i","t":12,"v":90},{"s":"i","t":25,"v":150},{"s":"i","t":40,"v":185},{"s":"i","t":55,"v":230},{"s":"i","t":70,"v":210},{"s":"i","t":85,"v":260},{"s":"i","t":100,"v":290},{"s":"i","t":115,"v":260},
      {"s":"i","t":130,"v":320},{"s":"i","t":145,"v":300},{"s":"i","t":160,"v":350},{"s":"i","t":175,"v":390},{"s":"i","t":190,"v":340},{"s":"i","t":205,"v":410},{"s":"i","t":220,"v":380},{"s":"i","t":235,"v":440},{"s":"i","t":250,"v":480},{"s":"i","t":265,"v":430},
      {"s":"i","t":280,"v":510},{"s":"i","t":300,"v":470},{"s":"i","t":320,"v":540},{"s":"i","t":340,"v":500},{"s":"i","t":360,"v":590},{"s":"i","t":380,"v":630},{"s":"i","t":400,"v":560},{"s":"i","t":420,"v":660},{"s":"i","t":440,"v":720},{"s":"i","t":460,"v":680},
      {"s":"i","t":480,"v":800},{"s":"i","t":500,"v":870},{"s":"i","t":520,"v":820},{"s":"i","t":540,"v":980},{"s":"i","t":560,"v":1050},{"s":"i","t":580,"v":960},{"s":"i","t":600,"v":1150},{"s":"i","t":620,"v":1080},{"s":"i","t":640,"v":1300},{"s":"i","t":660,"v":1250},
      {"s":"i","t":680,"v":1500},{"s":"i","t":700,"v":1700},{"s":"i","t":720,"v":1800},{"s":"i","t":735,"v":2200},{"s":"i","t":750,"v":3200},{"s":"i","t":765,"v":4600},{"s":"i","t":780,"v":5800},{"s":"i","t":800,"v":7000},{"s":"i","t":820,"v":8000},{"s":"i","t":840,"v":8800},
      {"s":"i","t":860,"v":9500},{"s":"i","t":880,"v":9900},{"s":"i","t":900,"v":10000},{"s":"i","t":925,"v":10000},

      {"s":"j","t":0,"v":1},{"s":"j","t":4,"v":40},{"s":"j","t":12,"v":110},{"s":"j","t":25,"v":170},{"s":"j","t":40,"v":200},{"s":"j","t":55,"v":240},{"s":"j","t":70,"v":220},{"s":"j","t":85,"v":280},{"s":"j","t":100,"v":300},{"s":"j","t":115,"v":270},
      {"s":"j","t":130,"v":340},{"s":"j","t":145,"v":310},{"s":"j","t":160,"v":360},{"s":"j","t":175,"v":340},{"s":"j","t":190,"v":410},{"s":"j","t":205,"v":380},{"s":"j","t":220,"v":430},{"s":"j","t":235,"v":400},{"s":"j","t":250,"v":460},{"s":"j","t":265,"v":440},
      {"s":"j","t":280,"v":500},{"s":"j","t":300,"v":470},{"s":"j","t":320,"v":550},{"s":"j","t":340,"v":520},{"s":"j","t":360,"v":580},{"s":"j","t":380,"v":640},{"s":"j","t":400,"v":740},{"s":"j","t":420,"v":900},{"s":"j","t":440,"v":1150},{"s":"j","t":460,"v":1550},
      {"s":"j","t":480,"v":2100},{"s":"j","t":500,"v":2800},{"s":"j","t":520,"v":3800},{"s":"j","t":540,"v":5200},{"s":"j","t":555,"v":7000},{"s":"j","t":570,"v":9000},{"s":"j","t":585,"v":9900},{"s":"j","t":600,"v":10000},{"s":"j","t":655,"v":10000}
    ]
  },
  "layer": [
    {
      "data": {"name": "runs"},
      "mark": {"type": "line", "strokeWidth": 2.2},
      "encoding": {
        "x": {
          "field": "t",
          "type": "quantitative",
          "scale": {"domain": [-524, 5524], "nice": false, "zero": false},
          "axis": {
            "values": [0, 1000, 2000, 3000, 4000, 5000],
            "format": "d",
            "grid": false,
            "domain": false,
            "tickColor": "#222",
            "tickWidth": 1.2,
            "tickSize": -13,
            "labelFont": "Liberation Serif",
            "labelFontSize": 31,
            "labelColor": "black",
            "labelPadding": 14,
            "title": "t",
            "titleFont": "Liberation Serif",
            "titleFontSize": 34,
            "titleFontStyle": "italic",
            "titleFontWeight": "normal",
            "titleColor": "black",
            "titlePadding": 11
          }
        },
        "y": {
          "field": "v",
          "type": "quantitative",
          "scale": {"type": "log", "domain": [0.6, 20500], "nice": false},
          "axis": {
            "orient": "left",
            "values": [0.7, 0.8, 0.9, 1, 2, 3, 4, 5, 6, 7, 8, 9, 10, 20, 30, 40, 50, 60, 70, 80, 90, 100, 200, 300, 400, 500, 600, 700, 800, 900, 1000, 2000, 3000, 4000, 5000, 6000, 7000, 8000, 9000, 10000],
            "labelExpr": "datum.value == 1 ? '10⁰' : datum.value == 10 ? '10¹' : datum.value == 100 ? '10²' : datum.value == 1000 ? '10³' : datum.value == 10000 ? '10⁴' : ''",
            "title": null,
            "grid": false,
            "domain": false,
            "tickColor": "#222",
            "tickWidth": 1.2,
            "tickSize": {"condition": {"test": "indexof([1, 10, 100, 1000, 10000], datum.value) >= 0", "value": -13}, "value": -8},
            "labelFont": "Liberation Serif",
            "labelFontSize": 31,
            "labelColor": "black",
            "labelPadding": -9,
            "labelBaseline": "middle"
          }
        },
        "color": {
          "field": "s",
          "type": "nominal",
          "scale": {
            "domain": ["a", "b", "c", "d", "e", "f", "g", "h", "i", "j"],
            "range": ["#ff2020", "#ffa510", "#d8348c", "#4646a8", "#aa2222", "#33aa22", "#29c8dc", "#a845bb", "#22d98a", "#b0dd1a"]
          },
          "legend": null
        },
        "strokeDash": {
          "datum": "Nₖᵐᵃˣ − N/M",
          "scale": {"domain": ["Nₖᵐᵃˣ − N/M", "Nm_c(λ)"], "range": [[1, 0], [5.5, 2.4]]},
          "legend": {
            "orient": "none",
            "legendX": 389,
            "legendY": 199,
            "title": null,
            "padding": 9,
            "fillColor": "white",
            "strokeColor": "#dddddd",
            "cornerRadius": 5,
            "symbolSize": 900,
            "labelOffset": 71,
            "labelFont": "DejaVu Serif",
            "labelFontStyle": "italic",
            "labelFontSize": 31,
            "labelColor": "black",
            "labelLimit": 400,
            "rowPadding": 17,
            "encode": {
              "symbols": {
                "update": {
                  "shape": [
                    {"test": "datum.index === 0", "value": "M-1,-0.07H-0.4V0.07H-1ZM-0.28,-0.07H0.32V0.07H-0.28ZM0.44,-0.07H1.04V0.07H0.44ZM1.16,-0.07H1.76V0.07H1.16ZM1.88,-0.07H2.48V0.07H1.88ZM2.6,-0.07H3.2V0.07H2.6ZM3.32,-0.07H3.92V0.07H3.32Z"},
                    {"value": "M-1,0H3.92"}
                  ],
                  "fill": [
                    {"test": "datum.index === 0", "value": {"gradient": "linear", "x1": 0, "y1": 0, "x2": 1, "y2": 0, "stops": [
                      {"offset": 0, "color": "#3ec8d0"}, {"offset": 0.134, "color": "#3ec8d0"},
                      {"offset": 0.134, "color": "#4b50a8"}, {"offset": 0.28, "color": "#4b50a8"},
                      {"offset": 0.28, "color": "#b5d330"}, {"offset": 0.427, "color": "#b5d330"},
                      {"offset": 0.427, "color": "#a62a2a"}, {"offset": 0.573, "color": "#a62a2a"},
                      {"offset": 0.573, "color": "#ff2d2d"}, {"offset": 0.72, "color": "#ff2d2d"},
                      {"offset": 0.72, "color": "#a95bbd"}, {"offset": 0.866, "color": "#a95bbd"},
                      {"offset": 0.866, "color": "#ffad1f"}, {"offset": 1, "color": "#ffad1f"}
                    ]}},
                    {"value": "transparent"}
                  ],
                  "stroke": [
                    {"test": "datum.index === 0", "value": "transparent"},
                    {"value": "black"}
                  ],
                  "strokeDash": [
                    {"test": "datum.index === 0", "value": [1, 0]},
                    {"value": [5.5, 2.4]}
                  ],
                  "strokeWidth": {"value": 1.5},
                  "opacity": {"value": 1}
                }
              }
            }
          }
        }
      }
    },
    {
      "data": {"name": "mc"},
      "mark": {"type": "rule", "color": "black", "strokeWidth": 1.5},
      "encoding": {
        "x": {"field": "t0", "type": "quantitative"},
        "x2": {"field": "t1"},
        "y": {
          "field": "v",
          "type": "quantitative",
          "axis": {
            "orient": "right",
            "values": [0.7, 0.8, 0.9, 1, 2, 3, 4, 5, 6, 7, 8, 9, 10, 20, 30, 40, 50, 60, 70, 80, 90, 100, 200, 300, 400, 500, 600, 700, 800, 900, 1000, 2000, 3000, 4000, 5000, 6000, 7000, 8000, 9000, 10000],
            "labels": false,
            "title": null,
            "grid": false,
            "domain": false,
            "tickColor": "#222",
            "tickWidth": 1.2,
            "tickSize": {"condition": {"test": "indexof([1, 10, 100, 1000, 10000], datum.value) >= 0", "value": -13}, "value": -8}
          }
        },
        "strokeDash": {"datum": "Nm_c(λ)"}
      }
    }
  ],
  "resolve": {"axis": {"y": "independent"}}
}
